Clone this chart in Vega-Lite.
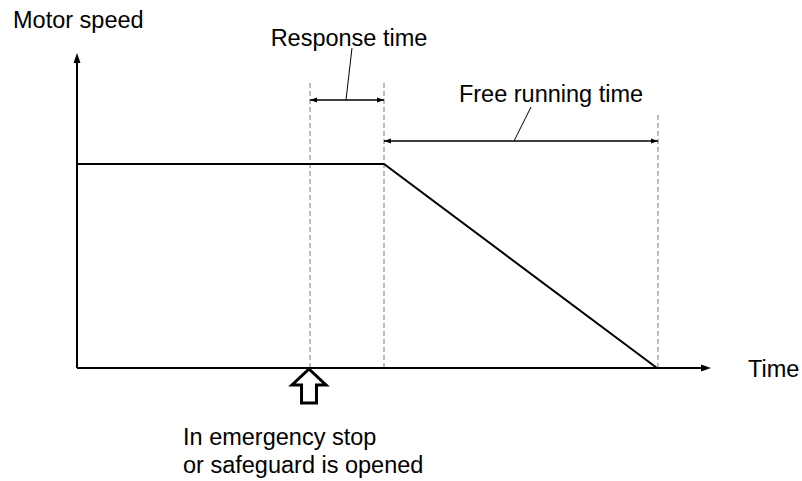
{
  "$schema": "https://vega.github.io/schema/vega-lite/v6.json",
  "width": 802,
  "height": 481,
  "autosize": {"type": "fit", "contains": "padding"},
  "padding": 0,
  "background": "white",
  "config": {"view": {"stroke": null}},
  "datasets": {
    "axes": [
      {"x": 0, "y": 0, "x2": 0, "y2": 312},
      {"x": 0, "y": 0, "x2": 630, "y2": 0}
    ],
    "speed": [
      {"x": 0, "y": 204},
      {"x": 307, "y": 204},
      {"x": 580, "y": 0}
    ],
    "guides": [
      {"x": 233, "y": 0, "x2": 233, "y2": 288},
      {"x": 307, "y": 0, "x2": 307, "y2": 288},
      {"x": 581, "y": 0, "x2": 581, "y2": 255}
    ],
    "dims": [
      {"x": 233, "y": 268, "x2": 307, "y2": 268},
      {"x": 307, "y": 227, "x2": 581, "y2": 227}
    ],
    "leaders": [
      {"x": 269, "y": 268, "x2": 275, "y2": 320},
      {"x": 437, "y": 227, "x2": 454, "y2": 261}
    ],
    "axisHeads": [
      {"x": 0, "y": 315, "dir": "up"},
      {"x": 634, "y": 0, "dir": "right"}
    ],
    "dimHeads": [
      {"x": 233, "y": 268, "dir": "left"},
      {"x": 307, "y": 268, "dir": "right"},
      {"x": 307, "y": 227, "dir": "left"},
      {"x": 581, "y": 227, "dir": "right"}
    ],
    "event": [
      {"x": 232, "y": -18}
    ],
    "labelsLeft": [
      {"x": -64, "y": 340, "label": "Motor speed"},
      {"x": 671, "y": -9, "label": "Time"},
      {"x": 106, "y": -77, "label": "In emergency stop"},
      {"x": 106, "y": -105, "label": "or safeguard is opened"}
    ],
    "labelsCenter": [
      {"x": 272, "y": 322, "label": "Response time"},
      {"x": 474, "y": 266, "label": "Free running time"}
    ]
  },
  "encoding": {
    "x": {"field": "x", "type": "quantitative", "scale": {"domain": [-77, 725], "nice": false, "zero": false}, "axis": null},
    "y": {"field": "y", "type": "quantitative", "scale": {"domain": [-113, 368], "nice": false, "zero": false}, "axis": null}
  },
  "layer": [
    {
      "data": {"name": "guides"},
      "mark": {"type": "rule", "stroke": "#787878", "strokeWidth": 1, "strokeDash": [5, 3]},
      "encoding": {"x2": {"field": "x2"}, "y2": {"field": "y2"}}
    },
    {
      "data": {"name": "axes"},
      "mark": {"type": "rule", "stroke": "black", "strokeWidth": 2},
      "encoding": {"x2": {"field": "x2"}, "y2": {"field": "y2"}}
    },
    {
      "data": {"name": "speed"},
      "mark": {"type": "line", "stroke": "black", "strokeWidth": 2},
      "encoding": {"order": {"field": "x", "type": "quantitative"}}
    },
    {
      "data": {"name": "dims"},
      "mark": {"type": "rule", "stroke": "black", "strokeWidth": 1.5},
      "encoding": {"x2": {"field": "x2"}, "y2": {"field": "y2"}}
    },
    {
      "data": {"name": "leaders"},
      "mark": {"type": "rule", "stroke": "black", "strokeWidth": 1},
      "encoding": {"x2": {"field": "x2"}, "y2": {"field": "y2"}}
    },
    {
      "data": {"name": "axisHeads"},
      "mark": {"type": "point", "filled": true, "fill": "black", "stroke": null, "opacity": 1, "size": 400},
      "encoding": {
        "shape": {"field": "dir", "type": "nominal", "legend": null,
          "scale": {"domain": ["up", "right", "left"], "range": ["M0,0 L0.35,1 L-0.35,1 Z", "M0,0 L-1,-0.35 L-1,0.35 Z", "M0,0 L1,-0.35 L1,0.35 Z"]}}
      }
    },
    {
      "data": {"name": "dimHeads"},
      "mark": {"type": "point", "filled": true, "fill": "black", "stroke": null, "opacity": 1, "size": 196},
      "encoding": {
        "shape": {"field": "dir", "type": "nominal", "legend": null,
          "scale": {"domain": ["up", "right", "left"], "range": ["M0,0 L0.36,1 L-0.36,1 Z", "M0,0 L-1,-0.36 L-1,0.36 Z", "M0,0 L1,-0.36 L1,0.36 Z"]}}
      }
    },
    {
      "data": {"name": "event"},
      "mark": {"type": "point", "filled": false, "fill": "white", "fillOpacity": 1, "stroke": "black", "strokeWidth": 3, "opacity": 1, "size": 1156,
        "shape": "M0,-1 L1,-0.06 L0.44,-0.06 L0.44,1 L-0.44,1 L-0.44,-0.06 L-1,-0.06 Z", "strokeJoin": "miter"}
    },
    {
      "data": {"name": "labelsLeft"},
      "mark": {"type": "text", "align": "left", "baseline": "alphabetic", "font": "Liberation Sans", "fontSize": 23.5, "fill": "black"},
      "encoding": {"text": {"field": "label"}}
    },
    {
      "data": {"name": "labelsCenter"},
      "mark": {"type": "text", "align": "center", "baseline": "alphabetic", "font": "Liberation Sans", "fontSize": 23.5, "fill": "black"},
      "encoding": {"text": {"field": "label"}}
    }
  ]
}
